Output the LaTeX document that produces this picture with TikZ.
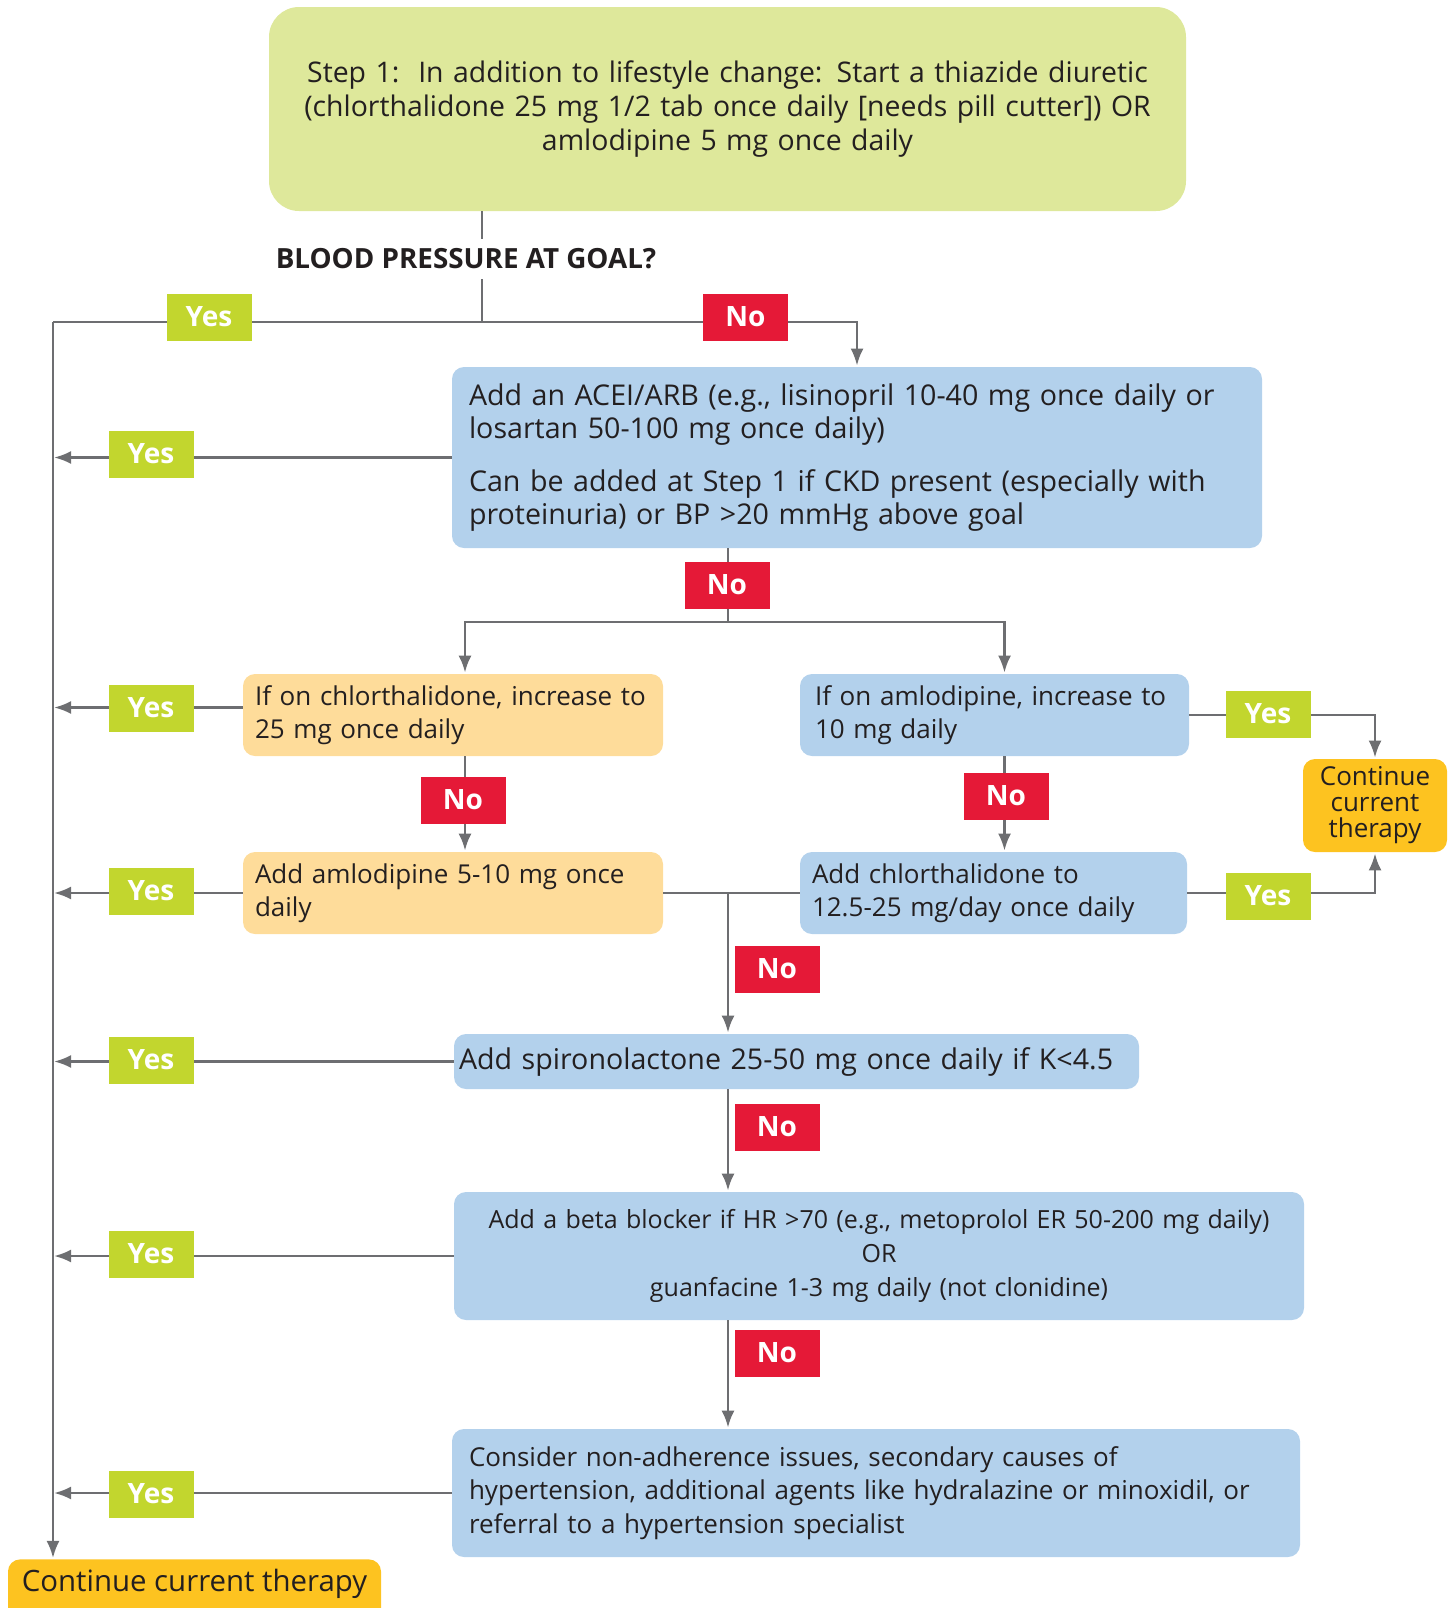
\documentclass[tikz,border=0pt]{standalone}
\usepackage{fontspec}
\setmainfont{Open Sans}
\usepackage{tikz}
\usetikzlibrary{arrows.meta}
\definecolor{stepgreen}{HTML}{DEE89B}
\definecolor{boxblue}{HTML}{B3D1EC}
\definecolor{boxorange}{HTML}{FEDC9A}
\definecolor{goldbox}{HTML}{FDC320}
\definecolor{yesgreen}{HTML}{C2D62E}
\definecolor{nored}{HTML}{E51937}
\definecolor{linegray}{HTML}{6D6E71}
\definecolor{txt}{HTML}{231F20}

\begin{document}
\begin{tikzpicture}[x=0.5pt, y=-0.5pt,
    font=\fontsize{13}{16.75}\selectfont, text=txt,
    box/.style={rounded corners=6pt, inner xsep=7pt, inner ysep=0pt, align=left},
    bluebox/.style={box, fill=boxblue},
    orangebox/.style={box, fill=boxorange},
    yeslabel/.style={fill=yesgreen, text=white, font=\fontsize{14}{16}\bfseries,
      minimum width=42.5pt, minimum height=23.5pt, inner sep=0pt},
    nolabel/.style={yeslabel, fill=nored},
    conn/.style={draw=linegray, line width=1.3pt},
    arr/.style={conn, -{Latex[length=3mm, width=2.3mm]}, shorten >=0.5pt}]
    \useasboundingbox (0,0) rectangle (1455,1608);

    \node[fill=stepgreen, rounded corners=15pt, minimum width=458.5pt, minimum height=102pt,
      align=center, text width=440pt, font=\fontsize{14.2}{17.2}\selectfont] (s1) at (727.5,109)
      {Step 1:\ \ In addition to lifestyle change: Start a thiazide diuretic\\
       (chlorthalidone 25 mg 1/2 tab once daily [needs pill cutter]) OR\\
       amlodipine 5 mg once daily};
    \node[bluebox, text width=388pt, minimum height=90.5pt, inner xsep=8.5pt,
      font=\fontsize{14.3}{16.5}\selectfont] (acei) at (857,457.5)
      {Add an ACEI/ARB (e.g., lisinopril 10-40 mg once daily or\\
       losartan 50-100 mg once daily)\\[10pt]
       Can be added at Step 1 if CKD present (especially with\\
       proteinuria) or BP >20 mmHg above goal};
    \node[orangebox, text width=198pt, minimum height=41pt, inner xsep=6pt] (chl) at (453,715)
      {If on chlorthalidone, increase to\\ 25 mg once daily};
    \node[bluebox, text width=179.5pt, minimum height=41pt, inner xsep=7.5pt] (amlinc) at (994.5,715)
      {If on amlodipine, increase to\\ 10 mg daily};
    \node[orangebox, text width=198pt, minimum height=41pt, inner xsep=6pt] (amladd) at (453,893)
      {Add amlodipine 5-10 mg once\\ daily};
    \node[bluebox, text width=181.5pt, minimum height=41pt, inner xsep=6pt] (chladd) at (993.5,893)
      {Add chlorthalidone to\\ 12.5-25 mg/day once daily};
    \node[fill=goldbox, rounded corners=6pt, minimum width=72pt, minimum height=46.5pt, inner sep=0pt,
      align=center, font=\fontsize{13}{13}\selectfont] (ctdr) at (1375,805.5)
      {Continue\\ current\\ therapy};
    \node[bluebox, text width=337.5pt, minimum height=27.5pt, inner xsep=2.5pt,
      font=\fontsize{14.3}{16.5}\selectfont] (spiro) at (796.5,1061.5)
      {Add spironolactone 25-50 mg once daily if K<4.5};
    \node[bluebox, align=center, text width=417pt, minimum height=64pt, inner xsep=4pt,
      font=\fontsize{12.5}{16.9}\selectfont] (beta) at (879,1256)
      {Add a beta blocker if HR >70 (e.g., metoprolol ER 50-200 mg daily)\\ OR\\
       guanfacine 1-3 mg daily (not clonidine)};
    \node[bluebox, text width=407pt, minimum height=64pt, inner xsep=8.5pt] (cons) at (876,1493)
      {Consider non-adherence issues, secondary causes of\\
       hypertension, additional agents like hydralazine or minoxidil, or\\
       referral to a hypertension specialist};
    \node[fill=goldbox, rounded corners=6pt, anchor=north, minimum width=186.5pt, inner sep=0pt,
      text height=16pt, text depth=15pt, font=\fontsize{14.7}{17}\selectfont] (ctd) at (194.5,1559)
      {Continue current therapy};

    \coordinate (split) at (482,322);
    \coordinate (trunk) at (53,322);
    \coordinate (fork) at (728,622);

    \draw[conn] (split |- s1.south) -- (split) -- (trunk);
    \draw[arr] (trunk) -- (trunk |- ctd.north);
    \draw[arr] (split) -| (acei.north);
    \draw[arr] (acei.west) -- (acei.west -| trunk);
    \draw[arr] ([yshift=3.75pt]chl.west) -- ([yshift=3.75pt]chl.west -| trunk);
    \draw[arr] (amladd.west) -- (amladd.west -| trunk);
    \draw[arr] (spiro.west) -- (spiro.west -| trunk);
    \draw[arr] (beta.west) -- (beta.west -| trunk);
    \draw[arr] (cons.west) -- (cons.west -| trunk);
    \draw[conn] (acei.south -| fork) -- (fork);
    \draw[arr] (fork) -| ([xshift=6pt]chl.north);
    \draw[arr] (fork) -| ([xshift=5pt]amlinc.north);
    \draw[arr] ([xshift=6pt]chl.south) -- ([xshift=6pt]amladd.north);
    \draw[arr] ([xshift=5pt]amlinc.south) -- ([xshift=5.5pt]chladd.north);
    \draw[conn] (amladd.east) -- (chladd.west);
    \draw[arr] (amladd.east -| fork) -- (fork |- spiro.north);
    \draw[arr] (fork |- spiro.south) -- (fork |- beta.north);
    \draw[arr] (fork |- beta.south) -- (fork |- cons.north);
    \draw[arr] (amlinc.east) -| (ctdr.north);
    \draw[arr] (chladd.east) -| (ctdr.south);

    \node[fill=white, inner xsep=2pt, inner ysep=5pt, font=\fontsize{13.9}{15}\bfseries] (bp) at (466,259)
      {BLOOD PRESSURE AT GOAL?};
    \node[yeslabel] (y0) at (209,317) {Yes};
    \node[nolabel] (n0) at (745.5,317) {No};
    \node[yeslabel] (y1) at (151,454) {Yes};
    \node[nolabel] (n1) at (727,585) {No};
    \node[yeslabel] (y2) at (151,708) {Yes};
    \node[nolabel] (n2) at (463,800) {No};
    \node[nolabel] (n3) at (1006,796) {No};
    \node[yeslabel] (yr1) at (1268,714) {Yes};
    \node[yeslabel] (yr2) at (1268,896) {Yes};
    \node[yeslabel] (y3) at (151,891) {Yes};
    \node[nolabel] (n4) at (777,969) {No};
    \node[yeslabel] (y4) at (151,1060) {Yes};
    \node[nolabel] (n5) at (777,1127) {No};
    \node[yeslabel] (y5) at (151,1254) {Yes};
    \node[nolabel] (n6) at (777,1353) {No};
    \node[yeslabel] (y6) at (151,1494) {Yes};
\end{tikzpicture}
\end{document}
